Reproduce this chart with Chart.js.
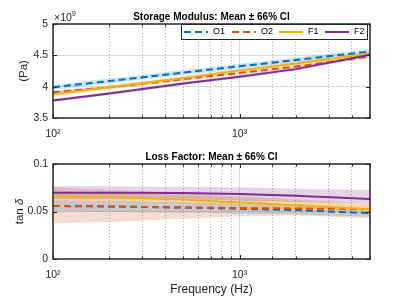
<!DOCTYPE html>
<html>
<head>
<meta charset="utf-8">
<script src="https://cdn.jsdelivr.net/npm/chart.js@4/dist/chart.umd.min.js"></script>
<style>
  html, body { margin: 0; padding: 0; background: #fff; }
  #wrap { position: relative; width: 409px; height: 308px; }
  canvas { position: absolute; left: 0; }
</style>
</head>
<body>
<div id="wrap">
  <canvas id="chartTop" width="409" height="145" style="top:0px"></canvas>
  <canvas id="chartBot" width="409" height="163" style="top:145px"></canvas>
</div>
<script>
// frekuensi sampel (Hz)
const freqs = [100, 200, 500, 1000, 2000, 5000];
const seriesNames = ["O1", "O2", "F1", "F2"];
const seriesColors = ["#0072BD", "#D95319", "#EDB120", "#7E2F8E"];
const bandColors = ["rgba(0,114,189,0.2)", "rgba(217,83,25,0.2)", "rgba(237,177,32,0.22)", "rgba(126,47,142,0.2)"];
const seriesDashed = [true, true, false, false];

// Storage modulus (x 10^9 Pa): mean, upper CI, lower CI
const storageO1 = [3.99, 4.09, 4.225, 4.325, 4.425, 4.56];
const storageO1Hi = [4.03, 4.13, 4.265, 4.365, 4.465, 4.60];
const storageO1Lo = [3.95, 4.05, 4.185, 4.285, 4.385, 4.52];
const storageO2 = [3.91, 3.99, 4.12, 4.22, 4.32, 4.48];
const storageO2Hi = [3.94, 4.02, 4.15, 4.25, 4.35, 4.51];
const storageO2Lo = [3.88, 3.96, 4.09, 4.19, 4.29, 4.45];
const storageF1 = [3.88, 3.99, 4.14, 4.26, 4.37, 4.53];
const storageF1Hi = [3.915, 4.025, 4.175, 4.295, 4.405, 4.565];
const storageF1Lo = [3.845, 3.955, 4.105, 4.225, 4.335, 4.495];
const storageF2 = [3.78, 3.89, 4.05, 4.16, 4.28, 4.51];
const storageF2Hi = [3.805, 3.915, 4.075, 4.185, 4.305, 4.535];
const storageF2Lo = [3.755, 3.865, 4.025, 4.135, 4.255, 4.485];

// Loss factor (tan delta): mean, upper CI, lower CI
const lossO1 = [0.0558, 0.0553, 0.0542, 0.0528, 0.0515, 0.0482];
const lossO1Hi = [0.0615, 0.061, 0.0598, 0.058, 0.0562, 0.0516];
const lossO1Lo = [0.050, 0.0496, 0.0486, 0.0476, 0.0468, 0.0446];
const lossO2 = [0.0558, 0.0553, 0.0542, 0.0537, 0.0532, 0.0525];
const lossO2Hi = [0.0755, 0.073, 0.069, 0.066, 0.063, 0.0586];
const lossO2Lo = [0.0376, 0.039, 0.0425, 0.045, 0.046, 0.043];
const lossF1 = [0.0663, 0.0652, 0.0625, 0.0595, 0.0565, 0.0523];
const lossF1Hi = [0.071, 0.070, 0.067, 0.064, 0.061, 0.057];
const lossF1Lo = [0.0615, 0.0605, 0.058, 0.055, 0.052, 0.0485];
const lossF2 = [0.0698, 0.0698, 0.0695, 0.0685, 0.0665, 0.0632];
const lossF2Hi = [0.0765, 0.0765, 0.076, 0.0755, 0.074, 0.0726];
const lossF2Lo = [0.063, 0.063, 0.063, 0.0615, 0.060, 0.0586];

const topTicksY = [3.5, 4, 4.5, 5];
const botTicksY = [0, 0.05, 0.1];
const majorFreqs = [100, 1000];

const FONT = "'Liberation Sans', Arial, sans-serif";
const AXIS_COLOR = "#262626";

function pts(ys) {
  return ys.map((y, i) => ({ x: freqs[i], y: y }));
}

function buildDatasets(means, his, los) {
  const sets = [];
  // pita CI dulu (digambar di bawah)
  for (let i = 0; i < means.length; i++) {
    sets.push({
      label: seriesNames[i] + " hi",
      data: pts(his[i]),
      borderWidth: 0,
      backgroundColor: bandColors[i],
      fill: "+1",
      order: 20 - i,
      isBand: true,
    });
    sets.push({
      label: seriesNames[i] + " lo",
      data: pts(los[i]),
      borderWidth: 0,
      fill: false,
      order: 20 - i,
      isBand: true,
    });
  }
  // garis rata-rata
  for (let i = 0; i < means.length; i++) {
    sets.push({
      label: seriesNames[i],
      data: pts(means[i]),
      borderColor: seriesColors[i],
      borderWidth: 2,
      borderDash: seriesDashed[i] ? [7, 4] : [],
      fill: false,
      order: 10 - i,
    });
  }
  return sets;
}

function xGridColor(ctx) {
  const v = ctx.tick && ctx.tick.value;
  if (v === 100 || v === 5000) return "rgba(0,0,0,0)";
  if (v === 1000) return "#dcdcdc";
  return "#b4b4b4";
}

function xGridDash(ctx) {
  const v = ctx.tick && ctx.tick.value;
  if (majorFreqs.includes(v)) return [];
  return [1, 2];
}

// plugin: kotak sumbu, tick ke dalam, judul, label
const axesDecor = {
  id: "axesDecor",
  afterDraw(chart) {
    const c = chart.ctx;
    const a = chart.chartArea;
    const opts = chart.options.plugins.axesDecor;
    const xs = chart.scales.x;
    const ys = chart.scales.y;
    c.save();
    c.strokeStyle = AXIS_COLOR;
    c.lineWidth = 1;
    // tick marks
    c.beginPath();
    xs.ticks.forEach((t) => {
      const px = Math.round(xs.getPixelForValue(t.value)) + 0.5;
      const len = majorFreqs.includes(t.value) ? 4 : 2.5;
      c.moveTo(px, a.bottom);
      c.lineTo(px, a.bottom - len);
      c.moveTo(px, a.top);
      c.lineTo(px, a.top + len);
    });
    opts.yTicks.forEach((v) => {
      const py = Math.round(ys.getPixelForValue(v)) + 0.5;
      c.moveTo(a.left, py);
      c.lineTo(a.left + 4, py);
      c.moveTo(a.right, py);
      c.lineTo(a.right - 4, py);
    });
    c.stroke();
    // kotak
    c.lineWidth = 1.5;
    c.strokeRect(a.left, a.top, a.right - a.left, a.bottom - a.top);

    // judul
    c.fillStyle = "#000";
    c.font = "bold 10px " + FONT;
    c.textAlign = "center";
    c.textBaseline = "middle";
    c.fillText(opts.title, (a.left + a.right) / 2, a.top - 7);

    // label sumbu y (diputar)
    c.save();
    c.translate(opts.yLabelX, (a.top + a.bottom) / 2);
    c.rotate(-Math.PI / 2);
    c.fillStyle = AXIS_COLOR;
    if (opts.yLabelItalic) {
      c.font = "11.5px " + FONT;
      const w1 = c.measureText(opts.yLabel).width;
      c.font = "italic 11.5px " + FONT;
      const w2 = c.measureText(opts.yLabelItalic).width;
      c.textAlign = "left";
      c.font = "11.5px " + FONT;
      c.fillText(opts.yLabel, -(w1 + w2) / 2, 0);
      c.font = "italic 11.5px " + FONT;
      c.fillText(opts.yLabelItalic, -(w1 + w2) / 2 + w1, 0);
    } else {
      c.font = "11.5px " + FONT;
      c.fillText(opts.yLabel, 0, 0);
    }
    c.restore();

    // pengali x10^9
    if (opts.multiplier) {
      c.fillStyle = AXIS_COLOR;
      c.textAlign = "left";
      c.font = "10.5px " + FONT;
      c.fillText("\u00d710", a.left + 1, a.top - 6);
      const w = c.measureText("\u00d710").width;
      c.font = "7.5px " + FONT;
      c.fillText(opts.multiplier, a.left + 1 + w, a.top - 10);
    }

    // label sumbu x
    if (opts.xLabel) {
      c.fillStyle = AXIS_COLOR;
      c.textAlign = "center";
      c.font = "12px " + FONT;
      c.fillText(opts.xLabel, (a.left + a.right) / 2, opts.xLabelY);
    }

    // legenda
    if (opts.legend) {
      const L = opts.legend;
      c.fillStyle = "#fff";
      c.fillRect(L.x, L.y, L.w, L.h);
      c.strokeStyle = AXIS_COLOR;
      c.lineWidth = 1;
      c.strokeRect(L.x + 0.5, L.y + 0.5, L.w, L.h);
      const lines = chart.data.datasets.filter((d) => !d.isBand);
      const cy = L.y + L.h / 2 + 0.5;
      c.font = "9px " + FONT;
      c.textAlign = "left";
      lines.forEach((d, i) => {
        const sx = L.starts[i];
        c.strokeStyle = d.borderColor;
        c.lineWidth = 2;
        c.setLineDash(d.borderDash || []);
        c.beginPath();
        c.moveTo(sx, cy);
        c.lineTo(sx + 24, cy);
        c.stroke();
        c.setLineDash([]);
        c.fillStyle = "#000";
        c.fillText(d.label, sx + 29, cy);
      });
    }
    c.restore();
  },
};

function makeOptions(cfg) {
  return {
    responsive: false,
    animation: false,
    devicePixelRatio: 1,
    layout: { padding: { left: 0, right: 39, top: cfg.top, bottom: 0 } },
    elements: { point: { radius: 0 }, line: { tension: 0 } },
    plugins: {
      legend: { display: false },
      tooltip: { enabled: false },
      axesDecor: cfg.decor,
    },
    scales: {
      x: {
        type: "logarithmic",
        min: 100,
        max: 5000,
        afterFit(s) { s.height = cfg.xHeight; },
        grid: { color: xGridColor, lineWidth: 1, drawTicks: false },
        border: { display: false, dash: xGridDash },
        ticks: {
          autoSkip: false,
          maxRotation: 0,
          padding: 10,
          color: AXIS_COLOR,
          font: { family: FONT, size: 10.5 },
          callback: (v) => (v === 100 ? "10\u00b2" : v === 1000 ? "10\u00b3" : ""),
        },
      },
      y: {
        min: cfg.yMin,
        max: cfg.yMax,
        afterFit(s) { s.width = 53; },
        afterBuildTicks(s) { s.ticks = cfg.yTicks.map((v) => ({ value: v })); },
        grid: {
          drawTicks: false,
          color: (ctx) => (ctx.tick && (ctx.tick.value === cfg.yMin || ctx.tick.value === cfg.yMax) ? "rgba(0,0,0,0)" : "#dcdcdc"),
        },
        border: { display: false },
        ticks: {
          padding: 5,
          color: AXIS_COLOR,
          font: { family: FONT, size: 10.5 },
          callback: (v) => String(+Number(v).toFixed(2)),
        },
      },
    },
  };
}

new Chart(document.getElementById("chartTop"), {
  type: "line",
  data: {
    datasets: buildDatasets(
      [storageO1, storageO2, storageF1, storageF2],
      [storageO1Hi, storageO2Hi, storageF1Hi, storageF2Hi],
      [storageO1Lo, storageO2Lo, storageF1Lo, storageF2Lo]
    ),
  },
  options: makeOptions({
    top: 24,
    xHeight: 27,
    yMin: 3.5,
    yMax: 5,
    yTicks: topTicksY,
    decor: {
      title: "Storage Modulus: Mean \u00b1 66% CI",
      yLabel: "(Pa)",
      yLabelX: 24,
      yTicks: topTicksY,
      multiplier: "9",
      legend: { x: 181, y: 24, w: 186, h: 15, starts: [184, 232, 279, 325] },
    },
  }),
  plugins: [axesDecor],
});

new Chart(document.getElementById("chartBot"), {
  type: "line",
  data: {
    datasets: buildDatasets(
      [lossO1, lossO2, lossF1, lossF2],
      [lossO1Hi, lossO2Hi, lossF1Hi, lossF2Hi],
      [lossO1Lo, lossO2Lo, lossF1Lo, lossF2Lo]
    ),
  },
  options: makeOptions({
    top: 19,
    xHeight: 49,
    yMin: 0,
    yMax: 0.1,
    yTicks: botTicksY,
    decor: {
      title: "Loss Factor: Mean \u00b1 66% CI",
      yLabel: "tan ",
      yLabelItalic: "\u03b4",
      yLabelX: 20,
      yTicks: botTicksY,
      xLabel: "Frequency (Hz)",
      xLabelY: 145,
    },
  }),
  plugins: [axesDecor],
});
</script>
</body>
</html>
